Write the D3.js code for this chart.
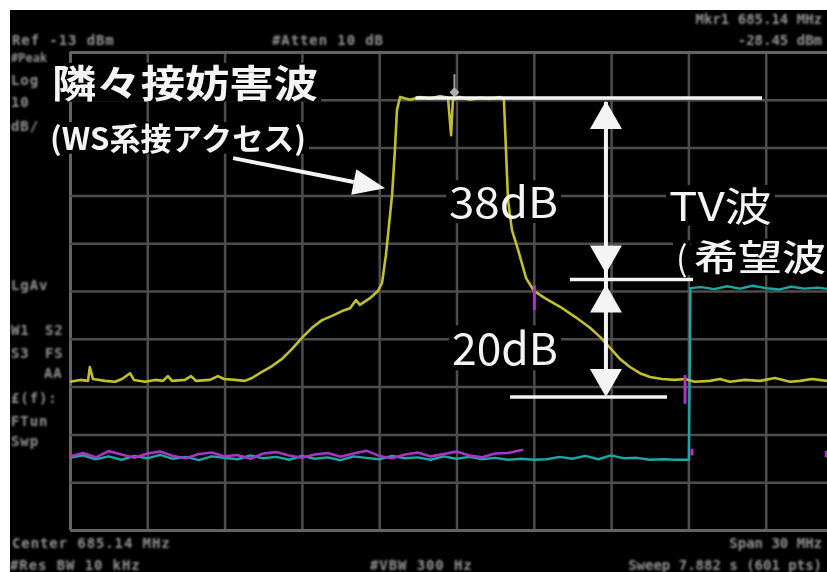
<!DOCTYPE html>
<html><head><meta charset="utf-8">
<script src="https://cdn.jsdelivr.net/npm/d3@7"></script>
<style>
html,body{margin:0;padding:0;background:#fff;}
svg{display:block;}
</style></head><body>
<svg id="chart" width="827" height="572"></svg>
<script>
// Analyzer settings
const centerMHz = 685.14;
const spanMHz = 30;
const refLevel = -13;      // dBm at the top graticule line
const dbPerDiv = 10;
const divisions = 10;

// Yellow trace: next-adjacent interferer (offset from centre in MHz, level in dBm)
const wsFreq = [-15.00,-14.61,-14.30,-14.23,-14.11,-13.64,-13.25,-12.98,-12.67,-12.52,-12.09,-11.70,-11.39,-11.20,-11.04,
  -10.54,-10.30,-10.11,-9.57,-9.26,-9.02,-8.60,-8.21,-7.94,-7.55,-7.16,-6.77,-6.38,-6.00,-5.61,-5.22,-4.83,-4.44,-4.13,
  -3.90,-3.75,-3.36,-3.05,-2.89,-2.74,-2.62,-2.50,-2.39,-2.31,-2.19,-1.80,-1.42,-1.03,-0.64,-0.33,-0.21,-0.14,0.14,0.52,
  0.91,1.30,1.69,1.84,1.92,2.00,2.15,2.39,2.70,3.01,3.43,4.02,4.60,5.18,5.57,5.96,6.34,6.73,7.12,7.51,7.97,8.48,8.87,
  9.25,9.84,10.22,10.61,11.19,11.78,12.36,12.94,13.33,13.80,14.38,15.00];
const wsLevel = [-82.0,-81.6,-81.8,-78.9,-81.4,-81.8,-82.0,-81.4,-80.2,-81.6,-82.0,-81.6,-81.8,-80.8,-81.8,
  -81.6,-80.8,-81.8,-81.6,-80.8,-81.4,-81.6,-81.8,-81.2,-79.9,-78.7,-77.2,-75.1,-72.8,-70.7,-69.1,-68.2,-67.2,-66.6,
  -64.9,-65.9,-64.5,-63.0,-61.3,-55.5,-49.2,-42.9,-33.5,-25.1,-22.4,-23.0,-22.4,-22.8,-22.2,-22.6,-30.4,-23.0,-22.4,-23.0,
  -22.6,-22.8,-22.4,-23.0,-33.5,-44.0,-50.2,-54.4,-60.3,-63.0,-64.5,-66.3,-68.4,-70.7,-72.6,-74.9,-77.2,-78.9,-80.2,-81.0,
  -81.4,-81.6,-81.4,-82.0,-81.8,-81.4,-82.0,-81.6,-81.8,-81.2,-82.0,-81.8,-81.4,-81.8,-81.8];

// Cyan trace: TV signal (desired wave)
const tvFreq = [-15.0,-14.5,-14.0,-13.5,-13.0,-12.5,-12.0,-11.5,-11.0,-10.5,-10.0,-9.5,-9.0,-8.5,-8.0,-7.5,-7.0,-6.5,
  -6.0,-5.5,-5.0,-4.5,-4.0,-3.5,-3.0,-2.5,-2.0,-1.5,-1.0,-0.5,0.0,0.5,1.0,1.5,2.0,2.5,3.0,3.5,4.0,4.5,5.0,5.5,6.0,6.5,
  7.0,7.5,8.0,8.5,9.02,9.08,9.5,10.0,10.5,11.0,11.5,12.0,12.5,13.0,13.5,14.0,14.5,15.0];
const tvLevel = [-97.9,-97.4,-98.2,-97.6,-98.3,-97.5,-98.0,-97.3,-98.1,-97.7,-98.4,-97.6,-97.9,-98.2,-97.4,-98.0,-97.7,-98.3,
  -97.5,-98.1,-97.8,-98.4,-97.6,-97.9,-98.2,-97.5,-98.0,-97.8,-98.3,-97.6,-98.1,-97.7,-98.2,-97.9,-98.3,-98.1,-98.3,-98.2,
  -97.7,-98.1,-97.5,-98.2,-97.4,-98.0,-97.9,-98.3,-98.2,-98.3,-98.3,-62.4,-62.2,-62.6,-62.0,-62.5,-61.9,-62.4,-62.7,-62.1,
  -62.5,-62.3,-62.6,-62.2];

// Magenta trace: reference noise floor
const bgFreq = [-15.0,-14.5,-14.0,-13.5,-13.0,-12.5,-12.0,-11.5,-11.0,-10.5,-10.0,-9.5,-9.0,-8.5,-8.0,-7.5,-7.0,-6.5,
  -6.0,-5.5,-5.0,-4.5,-4.0,-3.5,-3.0,-2.5,-2.0,-1.5,-1.0,-0.5,0.0,0.5,1.0,1.5,2.0,2.58];
const bgLevel = [-97.6,-96.9,-97.8,-96.5,-97.2,-97.9,-97.0,-96.6,-97.5,-98.0,-97.1,-96.8,-97.6,-97.3,-98.1,-97.0,-96.7,-97.4,
  -97.9,-97.2,-96.9,-97.7,-97.0,-96.4,-97.5,-98.0,-97.2,-96.8,-97.6,-97.1,-96.6,-97.4,-97.8,-97.0,-96.9,-96.2];

// Magenta delta-marker ticks (offset MHz, low / high dBm)
const tickFreq = [3.02, 8.87, 9.14, 14.35];
const tickLow  = [-67.0, -86.6, -97.4, -97.8];
const tickHigh = [-61.8, -80.6, -96.0, -96.4];

// Marker 1 on the interferer
const mkrFreq = -0.08;
const mkrLevel = -21.4;

// Annotation levels (dBm) and extents (offset MHz)
const peakLevel = -22.6;
const dropToTv = 38;
const floorLevel = -85.2;
const arrowFreq = 5.80;
const lineFrom = [-1.59, 4.40, 2.08];
const lineTo   = [11.86, 9.18, 8.17];
const pointerFrom = [-8.67, -35.2];
const pointerTo   = [-2.77, -41.5];

// Annotation texts
const titleText = "隣々接妨害波";
const subText = "(WS系接アクセス)";
const diffLabels = ["38dB", "20dB"];
const tvText = "TV波";
const tvSubText = "希望波";

const svg = d3.select("#chart");
const W = 827, H = 572;
svg.append("rect").attr("width", W).attr("height", H).attr("fill", "#fff");
svg.append("rect").attr("x", 10).attr("y", 10).attr("width", W - 10).attr("height", H - 10).attr("fill", "#000");

const defs = svg.append("defs");
defs.append("filter").attr("id", "soft").append("feGaussianBlur").attr("stdDeviation", 1.0);
defs.append("filter").attr("id", "soft2").append("feGaussianBlur").attr("stdDeviation", 0.5);

const x = d3.scaleLinear()
  .domain([centerMHz - spanMHz / 2, centerMHz + spanMHz / 2])
  .range([70, 843]);
const y = d3.scaleLinear()
  .domain([refLevel - dbPerDiv * divisions, refLevel])
  .range([530, 52]);
const fx = f => x(centerMHz + f);

// Graticule
const xTicks = d3.range(divisions + 1).map(i => x.domain()[0] + i * spanMHz / divisions);
const yTicks = d3.range(divisions + 1).map(i => y.domain()[0] + i * dbPerDiv);
const grid = svg.append("g").attr("filter", "url(#soft2)");
grid.append("g").attr("transform", "translate(0,530)")
  .call(d3.axisBottom(x).tickValues(xTicks).tickSize(-478).tickFormat(""))
  .call(g => g.select(".domain").remove());
grid.append("g").attr("transform", "translate(70,0)")
  .call(d3.axisLeft(y).tickValues(yTicks).tickSize(-773).tickFormat(""))
  .call(g => g.select(".domain").remove());
grid.selectAll(".tick line").attr("stroke", "#4e4e4e").attr("stroke-width", 2.5);
grid.selectAll(".tick").filter(d => d === yTicks[0] || d === yTicks[divisions] || d === xTicks[0])
  .select("line").attr("stroke", "#646464").attr("stroke-width", 3);

// Status text
const status = svg.append("g").attr("filter", "url(#soft)")
  .attr("font-family", "DejaVu Sans Mono").attr("font-weight", "bold")
  .attr("font-size", 14).attr("fill", "#949494");
const st = (t, px, py, opts) => {
  const el = status.append("text").attr("x", px).attr("y", py).text(t);
  const o = opts || {};
  el.attr("letter-spacing", o.ls != null ? o.ls : 0.9);
  if (o.size) el.attr("font-size", o.size);
  if (o.end) el.attr("text-anchor", "end");
  return el;
};
st("Ref -13 dBm", 12, 45);
st("#Atten 10 dB", 272, 45);
st("Mkr1 685.14 MHz", 822, 24, {ls: 0, end: true});
st("-28.45 dBm", 822, 45, {ls: 0, end: true});
st("#Peak", 11, 62, {ls: 0, size: 12});
st("Log", 11, 85);
st("10", 11, 107);
st("dB/", 11, 131);
st("LgAv", 11, 290);
st("W1", 11, 335); st("S2", 45, 335);
st("S3", 11, 358); st("FS", 45, 358);
st("AA", 44, 378);
st("£(f):", 11, 403);
st("FTun", 11, 426);
st("Swp", 11, 446);
st("Center 685.14 MHz", 12, 548);
st("#Res BW 10 kHz", 10, 570);
st("#VBW 300 Hz", 370, 570);
st("Span 30 MHz", 822, 548, {ls: 0, end: true});
st("Sweep 7.882 s (601 pts)", 822, 570, {ls: 0, end: true});

// Black masks behind annotation text (filled after the text is measured)
const masks = svg.append("g");

// Traces
const line = d3.line().x(d => fx(d[0])).y(d => y(d[1]));
const traces = svg.append("g").attr("filter", "url(#soft2)").attr("fill", "none")
  .attr("stroke-linejoin", "round");
traces.append("path").attr("d", line(d3.zip(tvFreq, tvLevel)))
  .attr("stroke", "#1ea8a2").attr("stroke-width", 2.4);
traces.append("path").attr("d", line(d3.zip(bgFreq, bgLevel)))
  .attr("stroke", "#a834c8").attr("stroke-width", 2.6);
traces.append("path").attr("d", line(d3.zip(wsFreq, wsLevel)))
  .attr("stroke", "#c2c02a").attr("stroke-width", 2.6);
tickFreq.forEach((f, i) => {
  traces.append("line").attr("x1", fx(f)).attr("x2", fx(f))
    .attr("y1", y(tickLow[i])).attr("y2", y(tickHigh[i]))
    .attr("stroke", "#a834c8").attr("stroke-width", 3);
});
// Marker 1
const mx = fx(mkrFreq), my = y(mkrLevel);
traces.append("line").attr("x1", mx).attr("x2", mx).attr("y1", my - 18).attr("y2", my)
  .attr("stroke", "#9a9a9a").attr("stroke-width", 2);
traces.append("path").attr("d", `M${mx},${my - 5}L${mx + 5},${my}L${mx},${my + 5}L${mx - 5},${my}Z`)
  .attr("fill", "#b0b0b0");

// Annotations
const ann = svg.append("g").attr("filter", "url(#soft2)");
const white = "#f4f4f4";
const midLevel = peakLevel - dropToTv;
const levels = [peakLevel, midLevel, floorLevel];
levels.forEach((lv, i) => {
  ann.append("line").attr("x1", fx(lineFrom[i])).attr("x2", fx(lineTo[i]))
    .attr("y1", y(lv)).attr("y2", y(lv)).attr("stroke", white).attr("stroke-width", 3.5);
});
const ax = fx(arrowFreq);
ann.append("line").attr("x1", ax).attr("x2", ax).attr("y1", y(peakLevel) + 4).attr("y2", y(floorLevel) - 4)
  .attr("stroke", white).attr("stroke-width", 4);
function head(tipY, dir) {
  // dir = -1 points up, +1 points down
  const len = 28, half = 16;
  const by = tipY - dir * len;
  ann.append("path").attr("d", `M${ax},${tipY}L${ax - half},${by}L${ax + half},${by}Z`).attr("fill", white);
}
head(y(peakLevel) + 3, -1);
head(y(midLevel) - 6, 1);
head(y(midLevel) + 5, -1);
head(y(floorLevel), 1);

// Pointer arrow from the title to the interferer
{
  const x1 = fx(pointerFrom[0]), y1 = y(pointerFrom[1]);
  const x2 = fx(pointerTo[0]), y2 = y(pointerTo[1]);
  const ang = Math.atan2(y2 - y1, x2 - x1);
  const len = 32, half = 13;
  const bx = x2 - len * Math.cos(ang), by = y2 - len * Math.sin(ang);
  ann.append("line").attr("x1", x1).attr("y1", y1).attr("x2", bx).attr("y2", by)
    .attr("stroke", white).attr("stroke-width", 4);
  const nx = -Math.sin(ang), ny = Math.cos(ang);
  ann.append("path").attr("d",
    `M${x2},${y2}L${bx + nx * half},${by + ny * half}L${bx - nx * half},${by - ny * half}Z`).attr("fill", white);
}

const jp = "'Noto Sans CJK JP', sans-serif";
function label(t, px, py, size, len, weight) {
  const el = ann.append("text").attr("x", px).attr("y", py).attr("font-family", jp)
    .attr("font-size", size).attr("font-weight", weight || 500).attr("fill", white).text(t);
  if (len) el.attr("textLength", len).attr("lengthAdjust", "spacingAndGlyphs");
  // black backing box hugging the glyphs
  const b = el.node().getBBox();
  masks.append("rect").attr("x", b.x - 3).attr("y", py - size * 0.9)
    .attr("width", b.width + 6).attr("height", size * 1.02).attr("fill", "#000");
  return el;
}
label(titleText, 52, 97, 38, 266, 700);
label(subText, 50, 150, 31, 256, 700);
label(diffLabels[0], 449, 218, 42, 109, 400);
label(diffLabels[1], 452, 365, 44, 106, 400);
label(tvText, 669, 221, 40, 103, 400);
label("(", 676, 271, 34, null, 400);
label(tvSubText, 694, 271, 36, 132, 500);
</script>
</body></html>
